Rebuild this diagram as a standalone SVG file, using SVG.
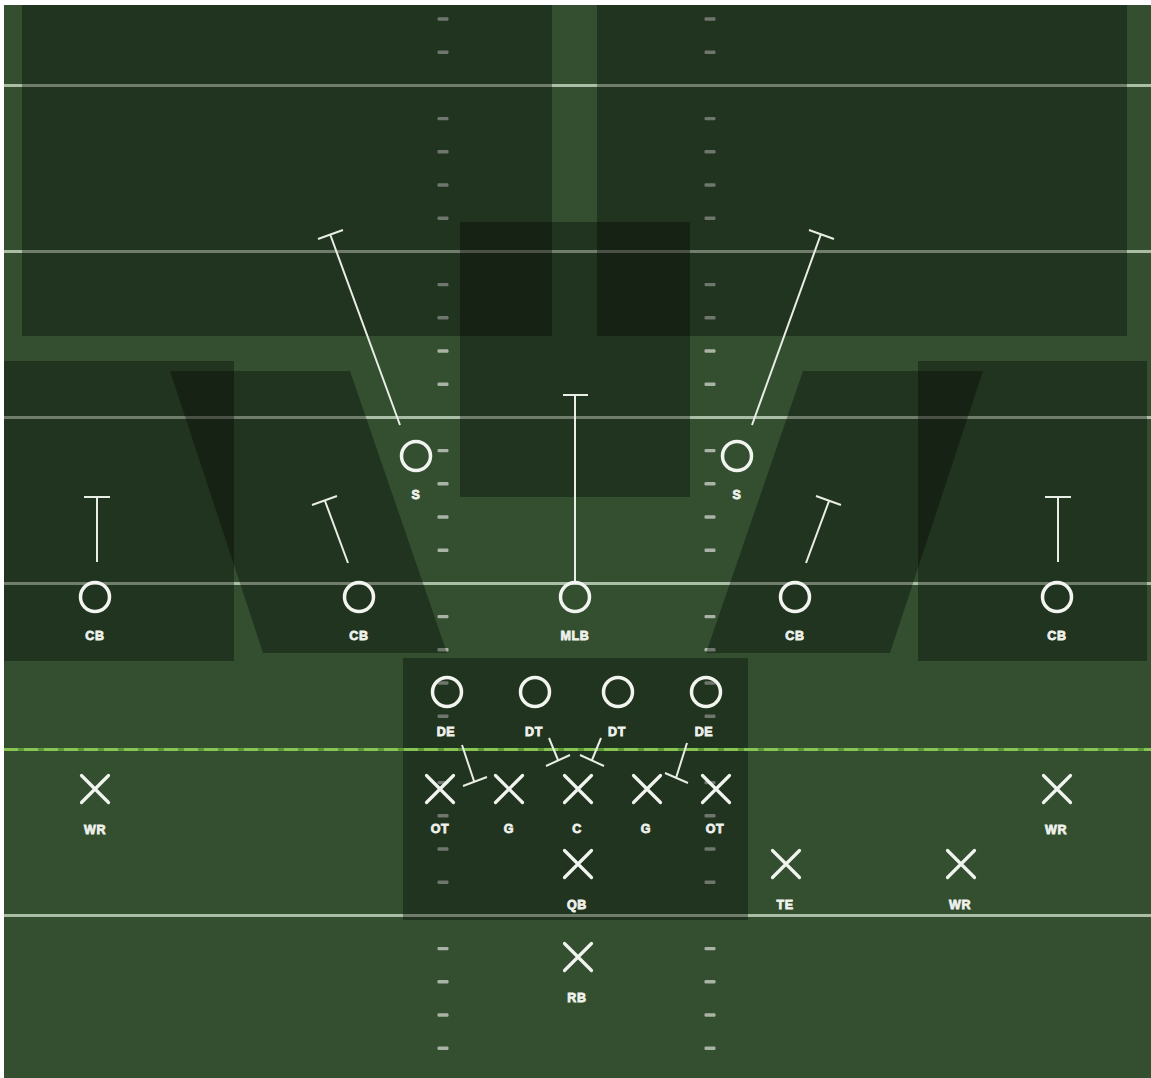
<svg xmlns="http://www.w3.org/2000/svg" width="1151" height="1078" viewBox="0 0 1151 1078">
<defs>
<style>
.yard{stroke:#aabda5;stroke-width:3;fill:none}
.hash{fill:#a9b3a6}
.shade{fill:#000;fill-opacity:0.34}
.route{stroke:#e8ede6;stroke-width:2;fill:none;stroke-linecap:butt}
.def{fill:none;stroke:#f2f4f0;stroke-width:3.5}
.off{stroke:#f2f4f0;stroke-width:3.2;stroke-linecap:round;fill:none}
.lbl{font-family:"Liberation Sans",Arial,sans-serif;font-weight:bold;font-size:12.5px;fill:#eef1ec;stroke:#eef1ec;stroke-width:0.8;text-anchor:middle;letter-spacing:0.6px}
</style>
<g id="hm">
<rect x="-5.5" y="-1.7" width="11" height="3.4" rx="1.2" class="hash"/>
</g>
<g id="xm">
<path d="M-13.5,-13.5 L13.5,13.5 M13.5,-13.5 L-13.5,13.5" class="off"/>
</g>
</defs>
<rect x="0" y="0" width="1151" height="1078" fill="#ffffff"/>
<rect x="4" y="5" width="1147" height="1073" fill="#334f30"/>
<g id="field-lines">
<line x1="4" y1="85.4" x2="1151" y2="85.4" class="yard"/>
<line x1="4" y1="251.4" x2="1151" y2="251.4" class="yard"/>
<line x1="4" y1="417.4" x2="1151" y2="417.4" class="yard"/>
<line x1="4" y1="583.4" x2="1151" y2="583.4" class="yard"/>
<line x1="4" y1="915.4" x2="1151" y2="915.4" class="yard"/>
</g>
<g id="hash-marks">
<use href="#hm" x="443" y="19"/><use href="#hm" x="443" y="52.2"/><use href="#hm" x="443" y="118.6"/><use href="#hm" x="443" y="151.8"/><use href="#hm" x="443" y="185"/><use href="#hm" x="443" y="218.2"/><use href="#hm" x="443" y="284.6"/><use href="#hm" x="443" y="317.8"/><use href="#hm" x="443" y="351"/><use href="#hm" x="443" y="384.2"/><use href="#hm" x="443" y="450.6"/><use href="#hm" x="443" y="483.8"/><use href="#hm" x="443" y="517"/><use href="#hm" x="443" y="550.2"/><use href="#hm" x="443" y="616.6"/><use href="#hm" x="443" y="649.8"/><use href="#hm" x="443" y="683"/><use href="#hm" x="443" y="716.2"/><use href="#hm" x="443" y="782.6"/><use href="#hm" x="443" y="815.8"/><use href="#hm" x="443" y="849"/><use href="#hm" x="443" y="882.2"/><use href="#hm" x="443" y="948.6"/><use href="#hm" x="443" y="981.8"/><use href="#hm" x="443" y="1015"/><use href="#hm" x="443" y="1048.2"/>
<use href="#hm" x="710" y="19"/><use href="#hm" x="710" y="52.2"/><use href="#hm" x="710" y="118.6"/><use href="#hm" x="710" y="151.8"/><use href="#hm" x="710" y="185"/><use href="#hm" x="710" y="218.2"/><use href="#hm" x="710" y="284.6"/><use href="#hm" x="710" y="317.8"/><use href="#hm" x="710" y="351"/><use href="#hm" x="710" y="384.2"/><use href="#hm" x="710" y="450.6"/><use href="#hm" x="710" y="483.8"/><use href="#hm" x="710" y="517"/><use href="#hm" x="710" y="550.2"/><use href="#hm" x="710" y="616.6"/><use href="#hm" x="710" y="649.8"/><use href="#hm" x="710" y="683"/><use href="#hm" x="710" y="716.2"/><use href="#hm" x="710" y="782.6"/><use href="#hm" x="710" y="815.8"/><use href="#hm" x="710" y="849"/><use href="#hm" x="710" y="882.2"/><use href="#hm" x="710" y="948.6"/><use href="#hm" x="710" y="981.8"/><use href="#hm" x="710" y="1015"/><use href="#hm" x="710" y="1048.2"/>
</g>
<g id="zones">
<rect x="22" y="5" width="530" height="331" class="shade"/>
<rect x="597" y="5" width="530" height="331" class="shade"/>
<rect x="460" y="222" width="230" height="275" class="shade"/>
<rect x="4" y="361" width="230" height="300" class="shade"/>
<polygon points="170,371 350,371 447,653 263,653" class="shade"/>
<rect x="918" y="361" width="229" height="300" class="shade"/>
<polygon points="803,371 983,371 890,653 706,653" class="shade"/>
<rect x="403" y="658" width="345" height="262" class="shade"/>
</g>
<g id="line-of-scrimmage">
<line x1="4" y1="749.4" x2="1151" y2="749.4" stroke="#5f9a3a" stroke-width="3"/>
<line x1="4" y1="749.4" x2="1151" y2="749.4" stroke="#86c454" stroke-width="3" stroke-dasharray="14 6"/>
</g>
<g id="connectors">
<path d="M400,425 L330,234 M318,239 L343,230" class="route"/>
<path d="M752,425 L821,234 M809,230 L834,239" class="route"/>
<path d="M575,581 L575,395 M563,395 L588,395" class="route"/>
<path d="M97,562 L97,497 M84,497 L110,497" class="route"/>
<path d="M1058,562 L1058,497 M1045,497 L1071,497" class="route"/>
<path d="M348,563 L325,501 M312,505 L337,496" class="route"/>
<path d="M806,563 L829,501 M816,496 L841,505" class="route"/>
<path d="M462,745 L474,781 M463,786 L487,777" class="route"/>
<path d="M549,738 L558,760 M546,766 L570,755" class="route"/>
<path d="M601,738 L592,760 M580,755 L604,766" class="route"/>
<path d="M687,743 L676,778 M665,773 L688,783" class="route"/>
</g>
<g id="s-left"><circle cx="416" cy="456" r="14.5" class="def"/><text x="416" y="499" class="lbl">S</text></g>
<g id="s-right"><circle cx="737" cy="456" r="14.5" class="def"/><text x="737" y="499" class="lbl">S</text></g>
<g id="cb-1"><circle cx="95" cy="597" r="14.5" class="def"/><text x="95" y="640" class="lbl">CB</text></g>
<g id="cb-2"><circle cx="359" cy="597" r="14.5" class="def"/><text x="359" y="640" class="lbl">CB</text></g>
<g id="mlb"><circle cx="575" cy="597" r="14.5" class="def"/><text x="575" y="640" class="lbl">MLB</text></g>
<g id="cb-3"><circle cx="795" cy="597" r="14.5" class="def"/><text x="795" y="640" class="lbl">CB</text></g>
<g id="cb-4"><circle cx="1057" cy="597" r="14.5" class="def"/><text x="1057" y="640" class="lbl">CB</text></g>
<g id="de-left"><circle cx="447" cy="692" r="14.5" class="def"/><text x="446" y="736" class="lbl">DE</text></g>
<g id="dt-left"><circle cx="535" cy="692" r="14.5" class="def"/><text x="534" y="736" class="lbl">DT</text></g>
<g id="dt-right"><circle cx="618" cy="692" r="14.5" class="def"/><text x="617" y="736" class="lbl">DT</text></g>
<g id="de-right"><circle cx="706" cy="692" r="14.5" class="def"/><text x="704" y="736" class="lbl">DE</text></g>
<g id="wr-left"><use href="#xm" x="95" y="789"/><text x="95" y="834" class="lbl">WR</text></g>
<g id="ot-left"><use href="#xm" x="440" y="789"/><text x="440" y="833" class="lbl">OT</text></g>
<g id="g-left"><use href="#xm" x="509" y="789"/><text x="509" y="833" class="lbl">G</text></g>
<g id="c"><use href="#xm" x="578" y="789"/><text x="577" y="833" class="lbl">C</text></g>
<g id="g-right"><use href="#xm" x="647" y="789"/><text x="646" y="833" class="lbl">G</text></g>
<g id="ot-right"><use href="#xm" x="716" y="789"/><text x="715" y="833" class="lbl">OT</text></g>
<g id="wr-right"><use href="#xm" x="1057" y="789"/><text x="1056" y="834" class="lbl">WR</text></g>
<g id="qb"><use href="#xm" x="578" y="864"/><text x="577" y="909" class="lbl">QB</text></g>
<g id="te"><use href="#xm" x="786" y="864"/><text x="785" y="909" class="lbl">TE</text></g>
<g id="wr-slot"><use href="#xm" x="961" y="864"/><text x="960" y="909" class="lbl">WR</text></g>
<g id="rb"><use href="#xm" x="578" y="957"/><text x="577" y="1002" class="lbl">RB</text></g>
</svg>
